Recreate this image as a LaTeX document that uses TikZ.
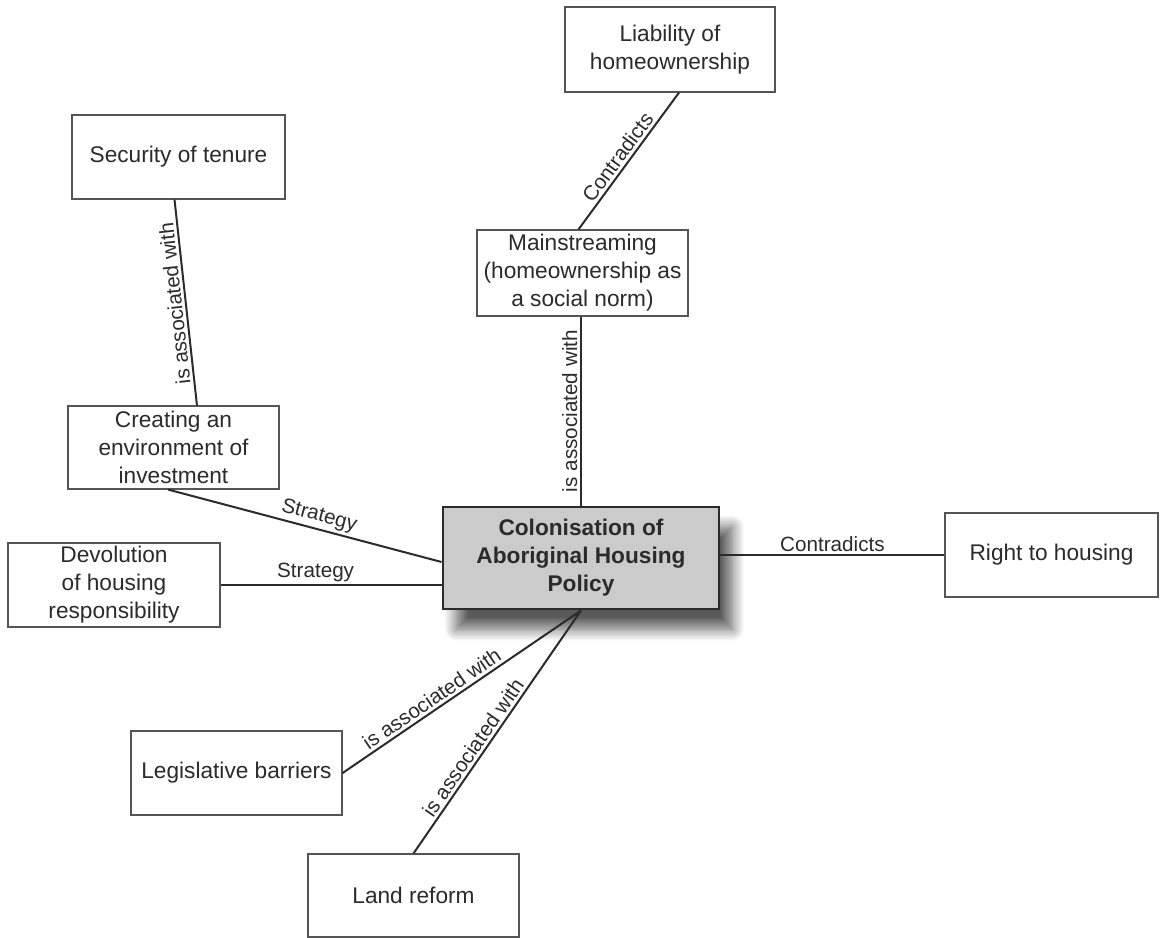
\documentclass[tikz,border=0pt]{standalone}
\usepackage{fontspec}
\setmainfont{Liberation Sans}
\usetikzlibrary{shadows.blur}
\definecolor{ink}{HTML}{2B2B2B}
\definecolor{boxline}{HTML}{555555}
\definecolor{corefill}{HTML}{CBCBCB}
\tikzset{
  concept/.style={draw=boxline, line width=0.9pt, fill=white, text=ink,
    align=center, inner sep=0pt, minimum width=158.25pt, minimum height=63pt,
    font=\fontsize{17}{21}\selectfont},
  core/.style={draw=ink, line width=2.2pt, fill=corefill, text=ink,
    align=center, inner sep=0pt, minimum width=207pt, minimum height=76.5pt,
    font=\fontsize{17}{21}\selectfont\bfseries,
    blur shadow={shadow xshift=10pt, shadow yshift=-15pt, shadow opacity=65,
      shadow blur radius=9pt, shadow blur steps=14}},
  link/.style={draw=ink, line width=1.5pt},
  labfont/.style={inner sep=2pt, text=ink, font=\fontsize{15.5}{18}\selectfont},
  lab/.style={labfont, midway, sloped, above},
  uplab/.style={labfont, midway, rotate=90, above}
}
\begin{document}
\begin{tikzpicture}[x=0.75pt, y=-0.75pt]
\useasboundingbox (0,0) rectangle (1160,938);

% concept boxes
\node[concept, minimum width=157.5pt, minimum height=63.75pt] (liab) at (670,49.5) {Liability of\\homeownership};
\node[concept, minimum width=159.75pt] (sec) at (178.5,157) {Security of tenure};
\node[concept, minimum height=64.5pt] (main) at (582.5,273) {Mainstreaming\\(homeownership as\\a social norm)};
\node[concept, minimum height=62.25pt] (create) at (173.5,447.5) {Creating an\\environment of\\investment};
\node[core] (central) at (581,558) {Colonisation of\\Aboriginal Housing\\Policy};
\node[concept, minimum width=159.75pt] (right) at (1051.5,555) {Right to housing};
\node[concept, minimum width=159pt] (devol) at (114,585) {Devolution\\of housing\\responsibility};
\node[concept] (legis) at (236.5,773) {Legislative barriers};
\node[concept, minimum height=62.25pt] (land) at (413.5,895.5) {Land reform};

% links between concepts
\draw[link] ([xshift=6.75pt]liab.south) -- node[lab, pos=0.52]{Contradicts} ([xshift=-3pt]main.north);
\draw[link] ([xshift=17.6pt]create.north) -- node[lab, allow upside down]{is associated with} ([xshift=-3pt]sec.south);
\draw[link] (central.north) -- node[uplab]{is associated with} (main.south -| central.north);
\draw[link] ([xshift=-4pt]create.south) -- node[lab, pos=0.54]{Strategy} ([yshift=-3pt]central.west);
\draw[link] (devol.east) -- node[lab, pos=0.43]{Strategy} (devol.east -| central.west);
\draw[link] (central.east |- right.west) -- node[lab]{Contradicts} (right.west);
\draw[link] (central.south) -- node[lab, pos=0.6]{is associated with} (legis.east);
\draw[link] (central.south) -- node[lab, pos=0.59]{is associated with} (land.north);
\end{tikzpicture}
\end{document}
